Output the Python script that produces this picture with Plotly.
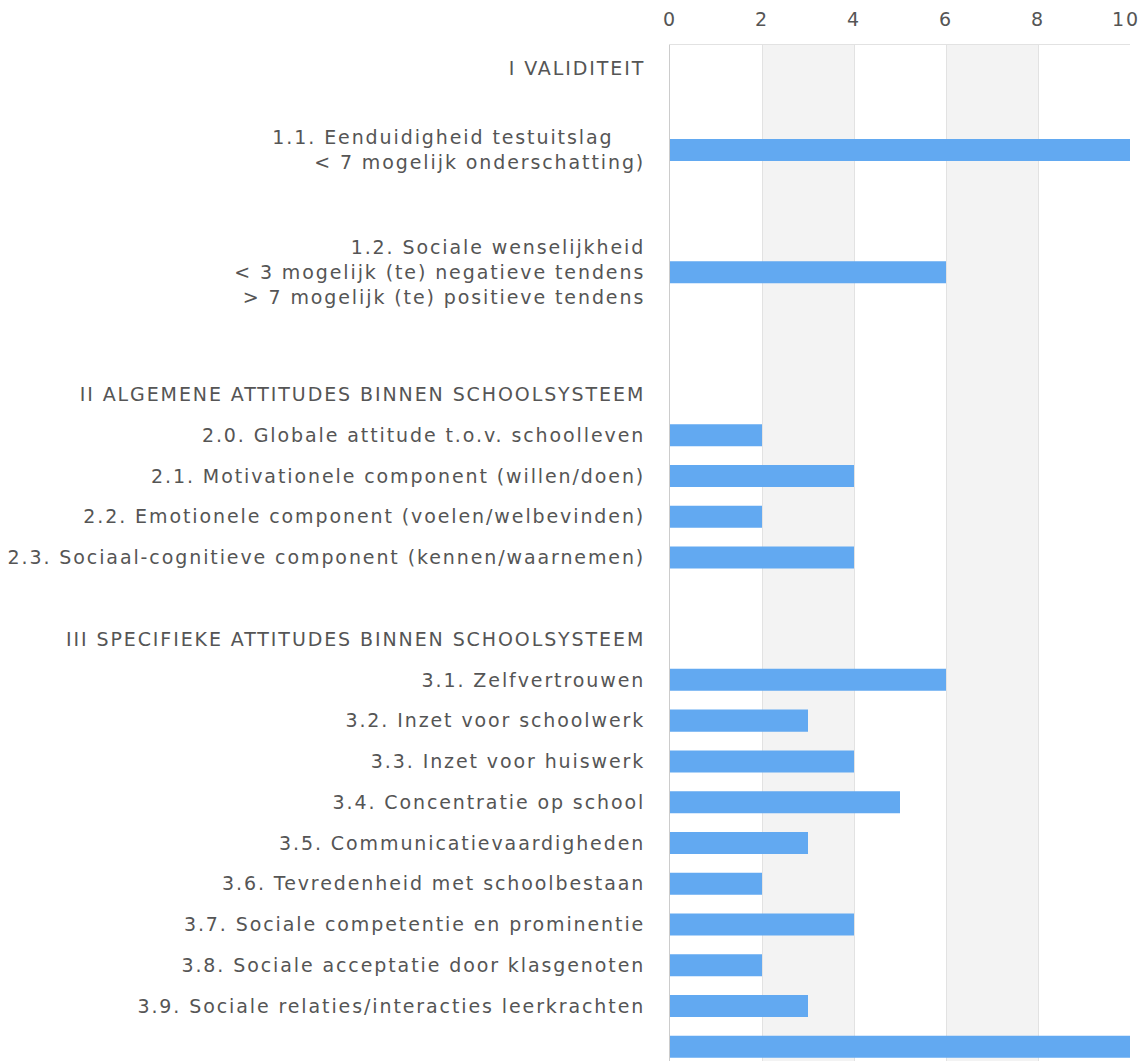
import plotly.graph_objects as go

NB = "\u00a0"
labels = [
    "I VALIDITEIT",
    "",
    "1.1. Eenduidigheid testuitslag" + NB * 4 + "<br>< 7 mogelijk onderschatting)",
    "",
    "",
    "1.2. Sociale wenselijkheid<br>< 3 mogelijk (te) negatieve tendens<br>> 7 mogelijk (te) positieve tendens",
    "",
    "",
    "II ALGEMENE ATTITUDES BINNEN SCHOOLSYSTEEM",
    "2.0. Globale attitude t.o.v. schoolleven",
    "2.1. Motivationele component (willen/doen)",
    "2.2. Emotionele component (voelen/welbevinden)",
    "2.3. Sociaal-cognitieve component (kennen/waarnemen)",
    "",
    "III SPECIFIEKE ATTITUDES BINNEN SCHOOLSYSTEEM",
    "3.1. Zelfvertrouwen",
    "3.2. Inzet voor schoolwerk",
    "3.3. Inzet voor huiswerk",
    "3.4. Concentratie op school",
    "3.5. Communicatievaardigheden",
    "3.6. Tevredenheid met schoolbestaan",
    "3.7. Sociale competentie en prominentie",
    "3.8. Sociale acceptatie door klasgenoten",
    "3.9. Sociale relaties/interacties leerkrachten",
    "",
]
values = [None, None, 10, None, None, 6, None, None, None,
          2, 4, 2, 4, None, None,
          6, 3, 4, 5, 3, 2, 4, 2, 3, 10]
x_ticks = [0, 2, 4, 6, 8, 10]
band_pairs = [(2, 4), (6, 8)]

positions = list(range(len(labels)))
label_pos = [p for p, l in zip(positions, labels) if l]
label_txt = [l for l in labels if l]

TEXT = "#555555"
FONT = "DejaVu Sans"

fig = go.Figure()
fig.add_trace(go.Bar(
    x=values, y=positions, orientation="h",
    marker=dict(color="#62a9f1", line=dict(width=0)),
    hoverinfo="skip",
))

for a, b in band_pairs:
    fig.add_shape(type="rect", xref="x", yref="paper", x0=a, x1=b, y0=0, y1=1,
                  fillcolor="#f3f3f3", line=dict(width=0), layer="below")

fig.update_layout(
    width=1145, height=1061,
    margin=dict(l=670, r=15, t=45, b=0),
    paper_bgcolor="white", plot_bgcolor="white",
    showlegend=False, bargap=0.46,
    font=dict(family=FONT, size=19, color=TEXT),
)
fig.update_xaxes(
    range=[0, 10], side="top", tickvals=x_ticks,
    showgrid=True, gridcolor="#e2e2e2", gridwidth=1,
    zeroline=False, showline=True, linecolor="#e2e2e2", linewidth=1, mirror=False,
    ticks="", ticklabelstandoff=10, ticklabeloverflow="allow", automargin=False,
    tickfont=dict(family=FONT, size=19, color=TEXT),
)
fig.update_yaxes(
    range=[24.35, -0.574], tickmode="array", tickvals=label_pos, ticktext=label_txt,
    showgrid=False, zeroline=False, showline=True, linecolor="#cccccc", linewidth=1,
    ticks="", ticklabelstandoff=20, automargin=False,
    tickfont=dict(family=FONT, size=19, color=TEXT),
)

post = ("document.body.style.margin='0';document.body.style.overflow='hidden';"
        "document.querySelectorAll('.xtick text, .ytick text').forEach(function(t){"
        "t.style.letterSpacing='1.9px';});"
        "var xt=document.querySelectorAll('.xtick text');"
        "if(xt.length){xt[xt.length-1].setAttribute('dx','-4');}")
fig.write_html("out.html", post_script=post, config={"displayModeBar": False})
